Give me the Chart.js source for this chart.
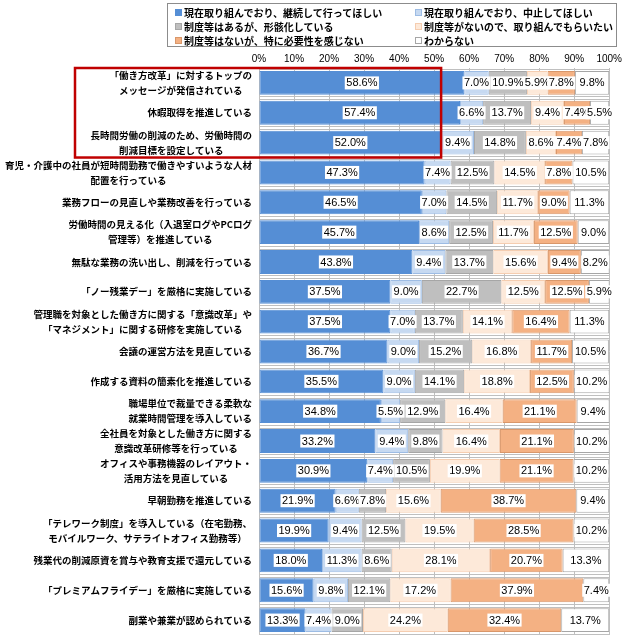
<!DOCTYPE html>
<html>
<head>
<meta charset="utf-8">
<script src="https://cdn.jsdelivr.net/npm/chart.js@4.4.0/dist/chart.umd.min.js"></script>
<style>
  body { margin: 0; background: #fff; }
  #wrap { position: relative; width: 625px; height: 640px; }
  #legend {
    position: absolute; left: 167px; top: 3px; width: 450px; height: 44px;
    box-sizing: border-box; border: 1px solid #8c8c8c; background: #fff;
    padding: 1px 0 0 7px;
    display: grid; grid-template-columns: 240px auto; grid-auto-rows: 14px;
    font: bold 10px 'Noto Sans CJK JP', sans-serif; color: #000;
  }
  #legend span { display: flex; align-items: center; white-space: nowrap; }
  #legend i { display: inline-block; width: 5px; height: 5px; border: 1px solid; margin-right: 2px; }
</style>
</head>
<body>
<div id="wrap">
  <canvas id="chart" width="625" height="640"></canvas>
  <div id="legend"></div>
</div>
<script>
'use strict';

var categories = [
  ['「働き方改革」に対するトップの', 'メッセージが発信されている'],
  ['休暇取得を推進している'],
  ['長時間労働の削減のため、労働時間の', '削減目標を設定している'],
  ['育児・介護中の社員が短時間勤務で働きやすいような人材', '配置を行っている'],
  ['業務フローの見直しや業務改善を行っている'],
  ['労働時間の見える化（入退室ログやPCログ', '管理等）を推進している'],
  ['無駄な業務の洗い出し、削減を行っている'],
  ['「ノー残業デー」を厳格に実施している'],
  ['管理職を対象とした働き方に関する「意識改革」や', '「マネジメント」に関する研修を実施している'],
  ['会議の運営方法を見直している'],
  ['作成する資料の簡素化を推進している'],
  ['職場単位で裁量できる柔軟な', '就業時間管理を導入している'],
  ['全社員を対象とした働き方に関する', '意識改革研修等を行っている'],
  ['オフィスや事務機器のレイアウト・', '活用方法を見直している'],
  ['早朝勤務を推進している'],
  ['「テレワーク制度」を導入している（在宅勤務、', 'モバイルワーク、サテライトオフィス勤務等）'],
  ['残業代の削減原資を賞与や教育支援で還元している'],
  ['「プレミアムフライデー」を厳格に実施している'],
  ['副業や兼業が認められている']
];

var seriesNames = [
  '現在取り組んでおり、継続して行ってほしい',
  '現在取り組んでおり、中止してほしい',
  '制度等はあるが、形骸化している',
  '制度等がないので、取り組んでもらいたい',
  '制度等はないが、特に必要性を感じない',
  'わからない'
];

var continueData = [58.6, 57.4, 52.0, 47.3, 46.5, 45.7, 43.8, 37.5, 37.5, 36.7, 35.5, 34.8, 33.2, 30.9, 21.9, 19.9, 18.0, 15.6, 13.3];
var stopData     = [7.0, 6.6, 9.4, 7.4, 7.0, 8.6, 9.4, 9.0, 7.0, 9.0, 9.0, 5.5, 9.4, 7.4, 6.6, 9.4, 11.3, 9.8, 7.4];
var formalData   = [10.9, 13.7, 14.8, 12.5, 14.5, 12.5, 13.7, 22.7, 13.7, 15.2, 14.1, 12.9, 9.8, 10.5, 7.8, 12.5, 8.6, 12.1, 9.0];
var wantData     = [5.9, 9.4, 8.6, 14.5, 11.7, 11.7, 15.6, 12.5, 14.1, 16.8, 18.8, 16.4, 16.4, 19.9, 15.6, 19.5, 28.1, 17.2, 24.2];
var noNeedData   = [7.8, 7.4, 7.4, 7.8, 9.0, 12.5, 9.4, 12.5, 16.4, 11.7, 12.5, 21.1, 21.1, 21.1, 38.7, 28.5, 20.7, 37.9, 32.4];
var unknownData  = [9.8, 5.5, 7.8, 10.5, 11.3, 9.0, 8.2, 5.9, 11.3, 10.5, 10.2, 9.4, 10.2, 10.2, 9.4, 10.2, 13.3, 7.4, 13.7];

var xTicks = [0, 10, 20, 30, 40, 50, 60, 70, 80, 90, 100];

var seriesData = [continueData, stopData, formalData, wantData, noNeedData, unknownData];
var fillColors = ['#558ED5', '#C6D9F1', '#BFBFBF', '#FDE9D9', '#F4B183', '#FFFFFF'];
var lineColors = ['#558ED5', '#9DBCE4', '#A6A6A6', '#F5CDB0', '#D9976A', '#A6A6A6'];

// legend (2 columns, row-major order)
var legendEl = document.getElementById('legend');
for (var i = 0; i < seriesNames.length; i++) {
  var item = document.createElement('span');
  item.innerHTML = '<i style="background:' + fillColors[i] + ';border-color:' + lineColors[i] + '"></i>' + seriesNames[i];
  legendEl.appendChild(item);
}

var datasets = [];
for (var i = 0; i < seriesData.length; i++) {
  datasets.push({
    label: seriesNames[i],
    data: seriesData[i],
    backgroundColor: fillColors[i],
    borderColor: lineColors[i],
    borderWidth: 1,
    borderSkipped: false,
    barPercentage: 0.8,
    categoryPercentage: 1.0
  });
}

// double horizontal lines along the bar edges
var rowLines = {
  id: 'rowLines',
  beforeDatasetsDraw: function(chart) {
    var ctx = chart.ctx, area = chart.chartArea;
    var meta = chart.getDatasetMeta(0);
    ctx.save();
    ctx.strokeStyle = '#BFBFBF';
    ctx.lineWidth = 1;
    meta.data.forEach(function(el) {
      var h = el.height;
      [el.y - h / 2 - 1.5, el.y + h / 2 + 1.5].forEach(function(y) {
        var py = Math.round(y) + 0.5;
        ctx.beginPath();
        ctx.moveTo(area.left, py);
        ctx.lineTo(area.right, py);
        ctx.stroke();
      });
    });
    ctx.restore();
  }
};

// value labels in white boxes
var valueLabels = {
  id: 'valueLabels',
  afterDatasetsDraw: function(chart) {
    var ctx = chart.ctx;
    ctx.save();
    ctx.font = '11px "Liberation Sans", Arial, sans-serif';
    ctx.textAlign = 'center';
    ctx.textBaseline = 'middle';
    chart.data.datasets.forEach(function(ds, di) {
      var meta = chart.getDatasetMeta(di);
      meta.data.forEach(function(el, j) {
        var p = el.getProps(['x', 'y', 'base'], true);
        var cx = (p.x + p.base) / 2;
        var txt = ds.data[j].toFixed(1) + '%';
        var w = ctx.measureText(txt).width + 3;
        ctx.fillStyle = '#fff';
        ctx.fillRect(cx - w / 2, p.y - 6.5, w, 13);
        ctx.fillStyle = '#000';
        ctx.fillText(txt, cx, p.y + 0.5);
      });
    });
    ctx.restore();
  }
};

// category labels: block right-aligned, lines centred within block
var categoryLabels = {
  id: 'categoryLabels',
  afterDraw: function(chart) {
    var ctx = chart.ctx;
    var yScale = chart.scales.y;
    var right = chart.chartArea.left - 7;
    ctx.save();
    ctx.font = 'bold 9.5px "Noto Sans CJK JP", sans-serif';
    ctx.fillStyle = '#000';
    ctx.textAlign = 'center';
    ctx.textBaseline = 'middle';
    categories.forEach(function(lines, i) {
      var y = yScale.getPixelForValue(i);
      var maxW = 0;
      lines.forEach(function(l) { maxW = Math.max(maxW, ctx.measureText(l).width); });
      var cx = right - maxW / 2;
      lines.forEach(function(l, j) {
        ctx.fillText(l, cx, y + (j - (lines.length - 1) / 2) * 15);
      });
    });
    ctx.restore();
  }
};

// red highlight frame around the first three items
var highlight = {
  id: 'highlight',
  afterDraw: function(chart) {
    var ctx = chart.ctx;
    var yScale = chart.scales.y, xScale = chart.scales.x;
    var half = (yScale.getPixelForValue(1) - yScale.getPixelForValue(0)) / 2;
    var top = yScale.getPixelForValue(0) - half;
    var bottom = yScale.getPixelForValue(2) + half;
    var right = xScale.getPixelForValue(continueData[2]);
    ctx.save();
    ctx.strokeStyle = '#C00000';
    ctx.lineWidth = 2.5;
    ctx.strokeRect(75, top, right - 75, bottom - top);
    ctx.restore();
  }
};

var ctx = document.getElementById('chart').getContext('2d');
var chart = new Chart(ctx, {
  type: 'bar',
  data: {
    labels: categories.map(function(c) { return c.join(''); }),
    datasets: datasets
  },
  options: {
    indexAxis: 'y',
    responsive: false,
    animation: false,
    layout: { padding: { top: 48, right: 14, bottom: 5, left: 0 } },
    scales: {
      x: {
        position: 'top',
        stacked: true,
        min: 0,
        max: 100,
        afterBuildTicks: function(axis) {
          axis.ticks = xTicks.map(function(v) { return { value: v }; });
        },
        afterFit: function(axis) { axis.height = 20; },
        ticks: {
          callback: function(v) { return v + '%'; },
          font: { family: '"Liberation Sans", Arial, sans-serif', size: 10 },
          color: '#000',
          padding: 3,
          maxRotation: 0
        },
        grid: { color: '#BFBFBF', drawTicks: false },
        border: { display: false }
      },
      y: {
        stacked: true,
        afterFit: function(axis) { axis.width = 259; },
        ticks: { display: false },
        grid: { display: false },
        border: { display: false }
      }
    },
    plugins: {
      legend: { display: false },
      tooltip: { enabled: false }
    }
  },
  plugins: [rowLines, valueLabels, categoryLabels, highlight]
});
</script>
</body>
</html>
